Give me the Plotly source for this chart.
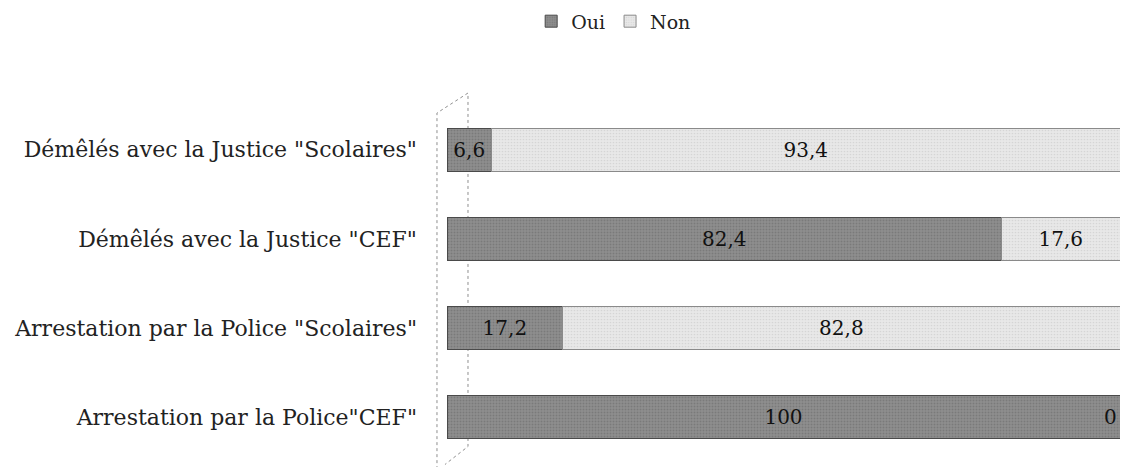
import plotly.graph_objects as go

categories = [
    'Démêlés avec la Justice "Scolaires"',
    'Démêlés avec la Justice "CEF"',
    'Arrestation par la Police "Scolaires"',
    'Arrestation par la Police"CEF"',
]
oui = [6.6, 82.4, 17.2, 100]
non = [93.4, 17.6, 82.8, 0]

FONT = "DejaVu Serif"

def fmt(v):
    return f"{v:g}".replace(".", ",")

fig = go.Figure()
fig.add_trace(go.Bar(
    y=categories, x=oui, name="Oui", orientation="h",
    marker=dict(color="#8f8f8f", line=dict(color="#4a4a4a", width=1),
                pattern=dict(shape=".", size=3, solidity=0.35, fgcolor="#666666")),
    text=[fmt(v) if v > 0 else "" for v in oui],
    textposition="inside", insidetextanchor="middle",
    textfont=dict(family=FONT, size=20, color="#111"),
))
fig.add_trace(go.Bar(
    y=categories, x=non, name="Non", orientation="h",
    marker=dict(color="#e8e8e8", line=dict(color="#8a8a8a", width=1),
                pattern=dict(shape=".", size=3, solidity=0.25, fgcolor="#c2c2c2")),
    text=[fmt(v) if v > 0 else "" for v in non],
    textposition="inside", insidetextanchor="middle",
    textfont=dict(family=FONT, size=20, color="#111"),
))

annotations = []
for c, a, b in zip(categories, oui, non):
    if b == 0:
        annotations.append(dict(x=a + b, y=c, text=fmt(b), showarrow=False,
                                xanchor="right", xshift=-1,
                                font=dict(family=FONT, size=20, color="#111")))

# decorative 3-D side wall (paper coordinates)
wall = dict(type="path", xref="paper", yref="paper",
            path="M -0.0149,-0.02 L -0.0149,0.9776 L 0.0312,1.0336 L 0.0312,0.0434 L -0.003,-0.007",
            line=dict(color="#8f8f8f", width=1, dash="dot"), fillcolor="rgba(0,0,0,0)",
            layer="below")

fig.update_layout(
    barmode="stack",
    bargap=0.52,
    width=1126, height=467,
    margin=dict(l=447, r=6, t=105, b=5),
    paper_bgcolor="white", plot_bgcolor="white",
    font=dict(family=FONT, size=22, color="#222"),
    uniformtext=dict(minsize=10, mode="show"),
    legend=dict(orientation="h", x=0.545, xanchor="center", xref="container",
                y=0.995, yanchor="top", yref="container", traceorder="normal",
                itemwidth=30, font=dict(family=FONT, size=19)),
    xaxis=dict(range=[0, 100], visible=False),
    yaxis=dict(autorange="reversed", showline=False,
               ticks="", ticklabelstandoff=29, showgrid=False),
    shapes=[wall],
    annotations=annotations,
)
fig.write_html("out.html")
